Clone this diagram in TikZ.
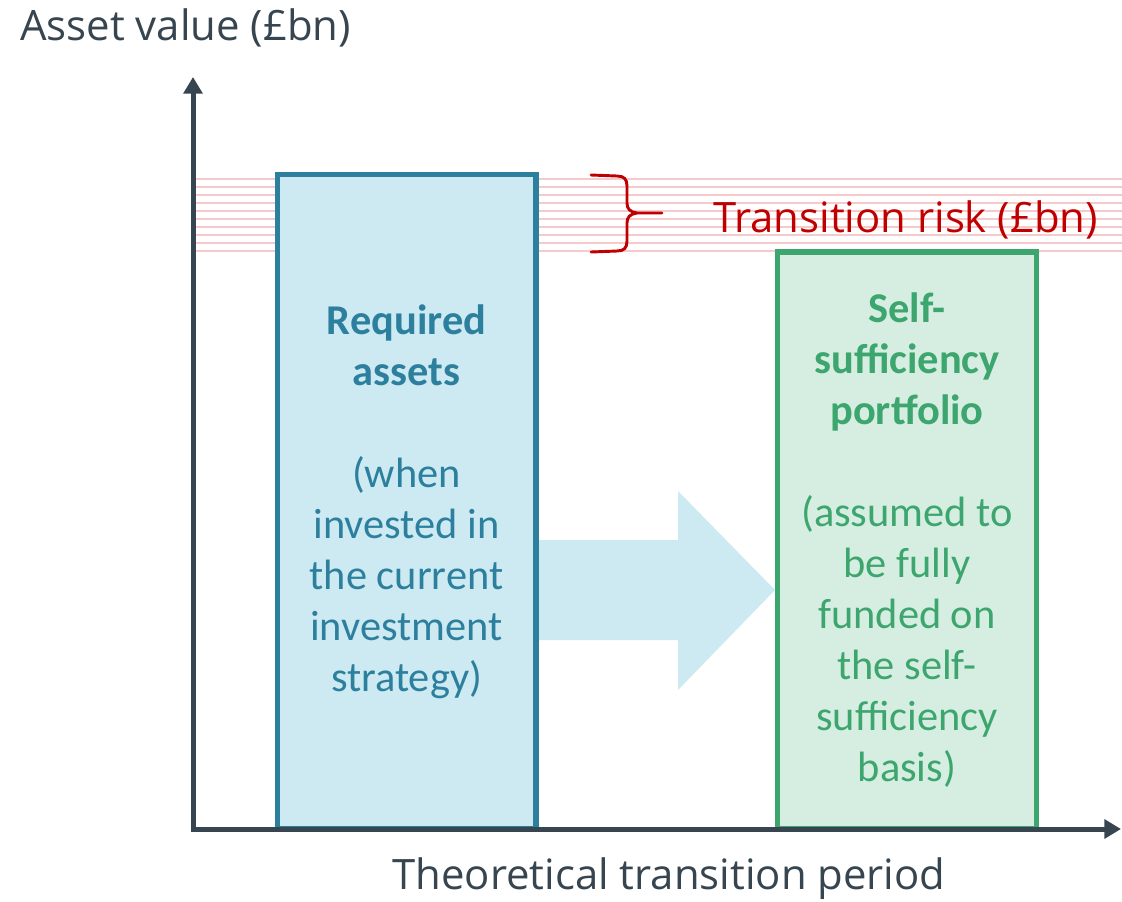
\documentclass[tikz,border=0pt]{standalone}
\usepackage{fontspec}
\setmainfont{Carlito}
\newfontfamily\labelfont{Open Sans}
\usepackage{tikz}
\usetikzlibrary{arrows.meta,backgrounds}

\definecolor{axisgrey}{HTML}{36454F}
\definecolor{reqblue}{HTML}{2C809E}
\definecolor{reqfill}{HTML}{CDE9F1}
\definecolor{sspgreen}{HTML}{3DA56E}
\definecolor{sspfill}{HTML}{D5EEE1}
\definecolor{riskred}{HTML}{C00000}
\definecolor{hatchpink}{HTML}{F6CACA}

\begin{document}
\begin{tikzpicture}[x=0.75pt, y=-0.75pt,
		axis/.style={
			line width=3.75pt,
			color=axisgrey,
			line join=miter
			},
		block/.style={
			draw=#1,
			line width=4pt,
			minimum width=194pt,
			inner sep=0pt,
			align=center,
			font=\fontsize{31.8}{38.25}\selectfont
			},
		title/.style={
			inner sep=0pt,
			font=\labelfont\fontsize{31.4}{36}\selectfont
			}
		]

		\useasboundingbox (0,0) rectangle (1122,901);

		% shaded band for the transition risk
		\foreach \y in {179,187,...,251}
			\draw[hatchpink, line width=1.1pt] (196,\y) -- (1122,\y);

		\node[block=reqblue, fill=reqfill, text=reqblue, minimum height=490.9pt] (req) at (406.5,501.75)
			{\textbf{Required}\\\textbf{assets}\\[38.25pt](when\\invested in\\the current\\investment\\strategy)};
		\node[block=sspgreen, fill=sspfill, text=sspgreen, minimum height=432.75pt] (ssp) at (907,540.5)
			{\textbf{Self-}\\\textbf{sufficiency}\\\textbf{portfolio}\\[38.25pt](assumed to\\be fully\\funded on\\the self-\\sufficiency\\basis)};

		\begin{scope}[on background layer]
			\fill[reqfill] (req.east |- 0,540) -- (678,540) -- (678,491) -- (ssp.west |- 0,590)
				-- (678,690) -- (678,640) -- (req.east |- 0,640) -- cycle;
		\end{scope}

		% brace
		\draw[riskred, line width=2.2pt, line cap=round, line join=round]
			(591,175) -- (617,176) .. controls (624,176) and (627,179) .. (627,186) -- (627,203)
			.. controls (627,209) and (630,212) .. (637,213) -- (662,213)
			(637,213) .. controls (630,214) and (627,217) .. (627,223) -- (627,241)
			.. controls (627,248) and (624,251) .. (617,251) -- (591,252);
		\node[title, text=riskred, anchor=base west] (risk) at (713,232) {Transition risk (£bn)};

		% axes
		\coordinate (origin) at (193,829);
		\coordinate (ytop) at (193,77);
		\coordinate (xend) at (1121,829);
		\draw[axis, {Triangle[width=14pt,length=12.5pt]}-{Triangle[width=14pt,length=12.5pt]}]
			(ytop) -- (origin) -- (xend);

		\node[title, text=axisgrey, anchor=base west] (yname) at (20,40) {Asset value (£bn)};
		\node[title, text=axisgrey, anchor=base] (xname) at (669,889) {Theoretical transition period};

	\end{tikzpicture}
\end{document}
